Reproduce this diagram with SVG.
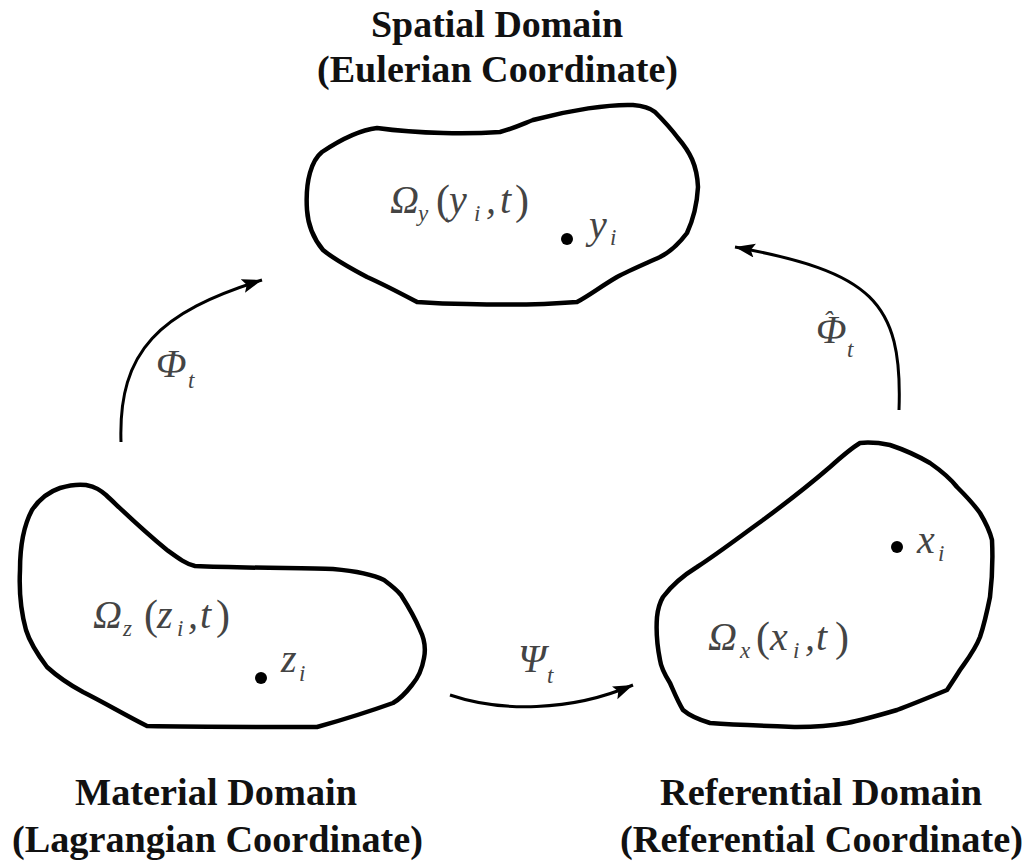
<svg xmlns="http://www.w3.org/2000/svg" width="1034" height="865" viewBox="0 0 1034 865">
<defs>
<style>
.blob{fill:none;stroke:#000;stroke-width:4.5;stroke-linejoin:round}
.conn{fill:none;stroke:#000;stroke-width:3}
.title{font-family:"Liberation Serif",serif;font-weight:bold;font-size:37px;fill:#111}
.math{font-family:"Liberation Serif",serif;font-style:italic;font-size:40px;fill:#444}
.sub{font-size:23px}
.par{font-style:normal;font-size:42px}
.hat{font-size:28px}
</style>
<marker id="ah" markerUnits="userSpaceOnUse" markerWidth="22" markerHeight="16" refX="20" refY="7" orient="auto">
<path d="M0,0 L20,7 L0,14 L4,7 Z" fill="#000"/>
</marker>
</defs>
<rect width="1034" height="865" fill="#fff"/>

<g id="spatial">
<text class="title" x="371" y="37" textLength="252" lengthAdjust="spacingAndGlyphs">Spatial Domain</text>
<text class="title" x="317" y="82" textLength="361" lengthAdjust="spacingAndGlyphs">(Eulerian Coordinate)</text>
<path class="blob" d="M307,210 C305,180 312,160 322,152 C340,140 360,130 377,128 C420,134 470,134 500,132 C515,128 525,123 533,120 C570,110 610,104 633,105 C645,106 650,108 655,112 C665,122 672,130 678,138 C690,152 697,165 698,187 C697,205 693,220 687,233 C678,245 670,252 660,257 C640,266 628,271 617,277 C600,287 590,295 577,302 C540,305 500,305 467,304 C450,304 430,303 417,302 C400,293 385,285 367,277 C350,268 335,260 323,250 C313,238 308,225 307,210 Z"/>
<text class="math" y="213"><tspan x="390">Ω</tspan><tspan class="sub" x="418" y="221">y</tspan><tspan class="par" x="436" y="214">(</tspan><tspan x="449" y="213">y</tspan><tspan class="sub" x="474" y="221">i</tspan><tspan x="486" y="213">,</tspan><tspan x="500">t</tspan><tspan class="par" x="515" y="214">)</tspan></text>
<circle cx="567" cy="239" r="6" fill="#000"/>
<text class="math" x="589" y="238">y<tspan class="sub" x="610" y="245">i</tspan></text>
</g>

<g id="material">
<text class="title" x="75" y="805" textLength="282" lengthAdjust="spacingAndGlyphs">Material Domain</text>
<text class="title" x="12" y="852" textLength="411" lengthAdjust="spacingAndGlyphs">(Lagrangian Coordinate)</text>
<path class="blob" d="M20,570 C20,545 24,525 32,510 C40,498 48,492 60,488 C70,485 78,484 86,485 C96,487 100,490 106,495 C120,508 140,528 167,550 C178,558 186,564 195,566 C240,568 300,568 333,569 C355,571 372,574 384,580 C392,586 397,590 401,595 C408,606 415,618 420,630 C425,640 426,648 424,658 C422,670 418,678 412,685 C405,694 400,699 393,703 C368,712 342,720 317,727 C260,727 200,727 147,726 C125,715 105,703 83,692 C70,685 58,677 47,667 C38,655 30,643 26,630 C21,612 19,590 20,570 Z"/>
<text class="math" y="628"><tspan x="93">Ω</tspan><tspan class="sub" x="123" y="636">z</tspan><tspan class="par" x="144" y="629">(</tspan><tspan x="157" y="628">z</tspan><tspan class="sub" x="177" y="636">i</tspan><tspan x="188" y="628">,</tspan><tspan x="200">t</tspan><tspan class="par" x="216" y="629">)</tspan></text>
<circle cx="261" cy="678" r="6" fill="#000"/>
<text class="math" x="281" y="672">z<tspan class="sub" x="299" y="681">i</tspan></text>
</g>

<g id="referential">
<text class="title" x="660" y="805" textLength="322" lengthAdjust="spacingAndGlyphs">Referential Domain</text>
<text class="title" x="620" y="852" textLength="403" lengthAdjust="spacingAndGlyphs">(Referential Coordinate)</text>
<path class="blob" d="M860,443 C870,442 880,443 890,445 C905,450 918,456 930,463 C940,470 950,478 957,487 C965,495 973,503 980,513 C986,523 990,532 992,540 C993,560 992,580 990,597 C987,612 984,625 980,637 C975,650 967,660 960,670 C955,678 951,684 947,690 C930,697 913,704 897,710 C880,715 863,720 847,723 C830,726 813,727 797,727 C768,726 738,725 710,723 C700,720 690,716 683,710 C678,702 674,692 670,683 C665,675 661,668 660,660 C657,645 656,630 657,617 C658,608 660,602 663,597 C672,585 684,575 697,567 C720,552 742,535 763,520 C786,503 808,486 830,467 C840,458 850,449 860,443 Z"/>
<text class="math" y="650"><tspan x="708">Ω</tspan><tspan class="sub" x="740" y="658">x</tspan><tspan class="par" x="756" y="651">(</tspan><tspan x="770" y="650">x</tspan><tspan class="sub" x="793" y="658">i</tspan><tspan x="805" y="650">,</tspan><tspan x="816">t</tspan><tspan class="par" x="835" y="651">)</tspan></text>
<circle cx="897" cy="547" r="6" fill="#000"/>
<text class="math" x="917" y="553">x<tspan class="sub" x="938" y="561">i</tspan></text>
</g>

<g id="connectors">
<path class="conn" d="M121,442 C118,350 160,312 262,280" marker-end="url(#ah)"/>
<path class="conn" d="M899,410 C903,300 870,272 735,247" marker-end="url(#ah)"/>
<path class="conn" d="M450,695 C500,712 570,712 633,685" marker-end="url(#ah)"/>
<text class="math" x="156" y="377">Φ<tspan class="sub" x="188" y="388">t</tspan></text>
<text class="math" x="816" y="343">Φ<tspan class="hat" x="823" y="330">ˆ</tspan><tspan class="sub" x="847" y="357">t</tspan></text>
<text class="math" x="518" y="672">Ψ<tspan class="sub" x="547" y="683">t</tspan></text>
</g>
</svg>
